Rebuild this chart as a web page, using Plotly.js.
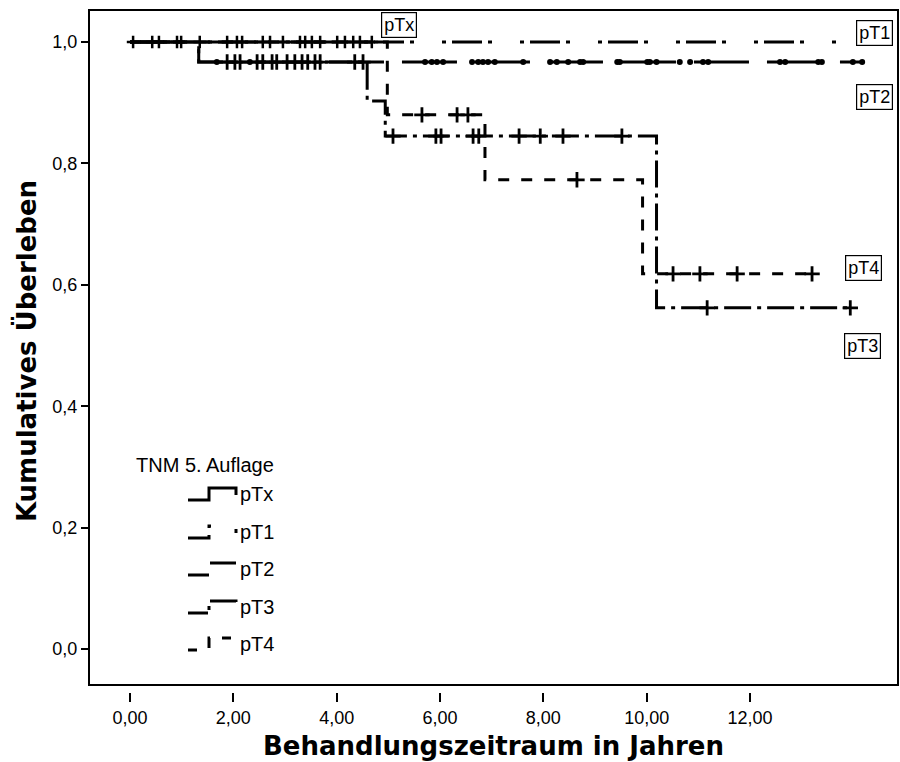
<!DOCTYPE html>
<html>
<head>
<meta charset="utf-8">
<script src="https://cdn.plot.ly/plotly-3.0.1.min.js"></script>
<style>html,body{margin:0;padding:0;background:#fff;}#chart{width:900px;height:762px;}</style>
</head>
<body>
<div id="chart"></div>
<script>
// ---------- DATA ----------
const groups = ["pTx", "pT1", "pT2", "pT3", "pT4"];

// event (drop) times in years and survival after each drop
const pTxEventTimes = [];
const pTxEventSurv = [];
const pTxEnd = 4.74;
const pTxCensor = [0.06,0.43,0.56,0.91,0.99,1.35,1.88,2.07,2.17,2.57,2.71,2.96,3.29,3.39,3.52,3.68,4.01,4.16,4.32,4.45,4.68];

const pT1EventTimes = [];
const pT1EventSurv = [];
const pT1End = 13.70;
const pT1Censor = [];

const pT2EventTimes = [1.33];
const pT2EventSurv = [0.967];
const pT2End = 14.17;
const pT2Censor = [1.68,2.32,5.71,5.84,5.94,6.06,6.62,6.74,6.83,6.93,7.06,7.61,8.13,8.26,8.48,8.71,8.77,9.43,9.48,10.01,10.06,10.19,10.64,10.84,11.09,11.19,12.58,12.68,13.32,13.39,13.99,14.17];

const pT3EventTimes = [1.33, 4.59, 4.94, 10.19];
const pT3EventSurv = [0.967, 0.903, 0.845, 0.562];
const pT3End = 13.94;
const pT3Censor = [1.88,2.03,2.13,2.46,2.57,2.75,2.84,3.04,3.19,3.33,3.44,3.58,3.68,4.35,4.51,5.09,5.92,6.02,6.64,6.75,7.53,7.94,8.38,9.52,11.17,13.94];

const pT4EventTimes = [4.98, 6.87, 9.92];
const pT4EventSurv = [0.880, 0.773, 0.618];
const pT4End = 13.20;
const pT4Censor = [5.65,6.33,6.54,8.65,10.51,11.03,11.75,13.20];

const xTickVals = [0,2,4,6,8,10,12];
const yTickVals = [0,0.2,0.4,0.6,0.8,1.0];
const legendTitle = "TNM 5. Auflage";
const xTitle = "Behandlungszeitraum in Jahren";
const yTitle = "Kumulatives Überleben";

// ---------- STYLES ----------
const FONT = "Liberation Sans, Arial, sans-serif";
const TITLEFONT = "DejaVu Sans, Liberation Sans, Arial, sans-serif";
const dashes = {
  pTx: "solid",
  pT1: "4px,6px,30px,6px,4px,28px",
  pT2: "55px,18px",
  pT3: "27px,6px,4px,6px",
  pT4: "11px,12px"
};
// same patterns, phase-shifted for the small legend step symbols
const legendDashes = {
  pTx: "solid",
  pT1: "24px,7px,4px,28px,4px,6px",
  pT2: "21px,13px,26px,20px",
  pT3: "20px,4px,4px,6px,27px,6px",
  pT4: "9px,14px,11px,12px"
};
const markerStyle = {
  pTx: {symbol:"cross-thin", size:9, line:{width:2.5,color:"#000"}},
  pT1: {symbol:"cross-thin", size:9, line:{width:2.5,color:"#000"}},
  pT2: {symbol:"circle", size:6, color:"#000", line:{width:0}},
  pT3: {symbol:"cross-thin", size:11, line:{width:2.8,color:"#000"}},
  pT4: {symbol:"cross-thin", size:11, line:{width:2.8,color:"#000"}}
};
const dataByGroup = {
  pTx:{t:pTxEventTimes,s:pTxEventSurv,end:pTxEnd,c:pTxCensor},
  pT1:{t:pT1EventTimes,s:pT1EventSurv,end:pT1End,c:pT1Censor},
  pT2:{t:pT2EventTimes,s:pT2EventSurv,end:pT2End,c:pT2Censor},
  pT3:{t:pT3EventTimes,s:pT3EventSurv,end:pT3End,c:pT3Censor},
  pT4:{t:pT4EventTimes,s:pT4EventSurv,end:pT4End,c:pT4Censor}
};

function survAt(g, time){
  let s = 1;
  for (let i=0;i<g.t.length;i++){ if (g.t[i] <= time) s = g.s[i]; }
  return s;
}

const traces = [];
groups.forEach(name => {
  const g = dataByGroup[name];
  const xs = [0].concat(g.t, [g.end]);
  const ys = [1].concat(g.s, [g.s.length ? g.s[g.s.length-1] : 1]);
  traces.push({x:xs, y:ys, mode:"lines", line:{shape:"hv", color:"#000", width:3, dash:dashes[name]},
               showlegend:false, hoverinfo:"skip", name:name});
  if (g.c.length){
    traces.push({x:g.c, y:g.c.map(t=>survAt(g,t)), mode:"markers",
                 marker:Object.assign({color:"#000"}, markerStyle[name]),
                 showlegend:false, hoverinfo:"skip", name:name+" zensiert"});
  }
});

// ---------- LAYOUT ----------
const W=900, H=762, L=89, R=898, T=10, B=692;
const px2x = p => (p-L)/(R-L);
const px2y = p => (B-p)/(B-T);

const shapes = [{type:"rect", xref:"paper", yref:"paper", x0:0, x1:1, y0:px2y(685), y1:1,
                 line:{color:"#000", width:2}, fillcolor:"rgba(0,0,0,0)"}];
const legendY = [494, 532, 569, 607, 644];
const annotations = [];
annotations.push({xref:"paper", yref:"paper", x:px2x(134), y:px2y(465), xanchor:"left", yanchor:"middle",
  text:legendTitle, showarrow:false, font:{family:FONT, size:20, color:"#000"}});
groups.forEach((name,i)=>{
  const cy = legendY[i];
  const b = cy+6, t = cy-6;
  const path = `M ${px2x(188)},${px2y(b)} L ${px2x(209)},${px2y(b)} L ${px2x(209)},${px2y(t)} L ${px2x(236)},${px2y(t)} L ${px2x(236)},${px2y(cy+1)}`;
  shapes.push({type:"path", xref:"paper", yref:"paper", path:path, line:{color:"#000", width:3, dash:legendDashes[name]}});
  annotations.push({xref:"paper", yref:"paper", x:px2x(238), y:px2y(cy), xanchor:"left", yanchor:"middle",
    text:name, showarrow:false, font:{family:FONT, size:20, color:"#000"}});
});
// boxed curve labels
const boxLabels = [
  {text:"pTx", x:399, y:25},
  {text:"pT1", x:874, y:33},
  {text:"pT2", x:874, y:97},
  {text:"pT4", x:863, y:268},
  {text:"pT3", x:862, y:346}
];
boxLabels.forEach(b=>{
  annotations.push({xref:"paper", yref:"paper", x:px2x(b.x), y:px2y(b.y), xanchor:"center", yanchor:"middle",
    text:b.text, showarrow:false, bgcolor:"#fff", bordercolor:"#000", borderwidth:1.2, borderpad:2,
    font:{family:FONT, size:18, color:"#000"}});
});

const layout = {
  width:W, height:H, paper_bgcolor:"#fff", plot_bgcolor:"#fff",
  separators:",.",
  margin:{l:L, r:W-R, t:T, b:H-B, pad:0},
  showlegend:false,
  font:{family:FONT, color:"#000"},
  xaxis:{range:[(L-130)/51.67, (R-130)/51.67], tickvals:xTickVals, tickformat:".2f",
         showgrid:false, zeroline:false, showline:false, ticks:"outside", ticklen:9, tickwidth:2, tickcolor:"#000",
         tickfont:{family:FONT, size:18},
         title:{text:xTitle, font:{size:26, family:TITLEFONT, weight:"bold"}, standoff:10}},
  yaxis:{range:[-(B-649)/607, 1+(42-T)/607], tickvals:yTickVals, tickformat:".1f",
         showgrid:false, zeroline:false, showline:false, ticks:"outside", ticklen:7, tickwidth:2, tickcolor:"#000",
         tickfont:{family:FONT, size:18},
         title:{text:yTitle, font:{size:26, family:TITLEFONT, weight:"bold"}, standoff:8}},
  shapes:shapes, annotations:annotations
};
Plotly.newPlot("chart", traces, layout, {staticPlot:true, displayModeBar:false});
</script>
</body>
</html>
